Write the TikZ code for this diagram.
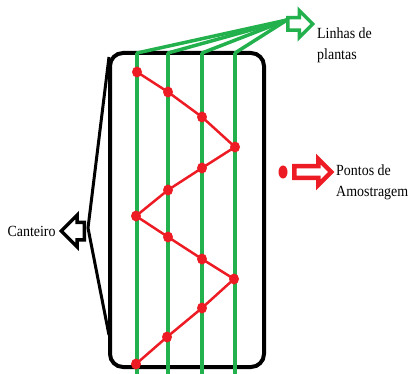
\documentclass[tikz,border=0pt]{standalone}
\usepackage{fontspec}
\setmainfont[FakeStretch=0.9]{Liberation Serif}
\usepackage{tikz}
\usetikzlibrary{shapes.arrows, shapes.geometric}

\definecolor{plantgreen}{HTML}{22B14C}
\definecolor{pointred}{HTML}{ED1C24}

\tikzset{
  hollowarrow/.style={single arrow, inner xsep=0pt, single arrow head indent=0pt},
  plantrow/.style={draw=plantgreen, line width=4pt},
  samplept/.style={fill=pointred, draw=none, ellipse, minimum width=10pt, minimum height=11pt, inner sep=0pt},
}

\begin{document}
\begin{tikzpicture}[x=1pt, y=-1pt, font=\fontsize{15.5}{21}\selectfont]
  \useasboundingbox (0,0) rectangle (409,374);
  % canteiro
  \draw[line width=4pt, rounded corners=13pt] (110,53) rectangle (264,367);
  \coordinate (ctop) at (109,57); \coordinate (cbot) at (109,335);
  \coordinate (cmid) at (88,228);
  \draw[line width=3pt] (ctop) -- (cmid) -- (cbot);
  \node[hollowarrow, draw=black, line width=3.5pt, shape border rotate=180, inner ysep=7pt,
        minimum height=23pt, minimum width=30pt, anchor=tail] (carrow) at (86,231) {};
  \node[anchor=east, inner sep=0pt] (canteiro) at (carrow.tip) [xshift=-3pt] {Canteiro};
  % linhas de plantas
  \coordinate (apex) at (287,20);
  \foreach \x [count=\i] in {137,168,202,235} {
    \coordinate (top\i) at (\x,53);
    \draw[plantrow] (top\i) -- (\x,374);
    \draw[plantgreen, line width=3.5pt, line cap=round] (top\i) -- (apex);
  }
  \node[hollowarrow, draw=plantgreen, line width=3.5pt, inner ysep=4.5pt, minimum height=25pt,
        minimum width=22pt, anchor=tail] (garrow) at (286,24) {};
  \node[anchor=west, align=left, inner sep=0pt] (linhas) at (317,45) {Linhas de\\plantas};
  % pontos de amostragem
  \foreach \x/\y [count=\i] in {137/72,168/92,202/117,235/147,202/168,168/190,136/216,
                                168/237,202/259,234/279,202/308,167/337,136/364}
    \coordinate (p\i) at (\x,\y);
  \draw[pointred, line width=2.5pt] (p1) \foreach \i in {2,...,13} { -- (p\i) };
  \foreach \i in {1,...,13}
    \node[samplept] at (p\i) {};
  \node[samplept, minimum width=9pt, minimum height=13pt] (legdot) at (283,172) {};
  \node[hollowarrow, draw=pointred, line width=4.5pt, inner ysep=3.5pt, minimum height=37pt,
        minimum width=21pt, anchor=tail] (rarrow) at (292,172) {};
  \node[anchor=west, align=left, inner sep=0pt] (pontos) at (336,182) {Pontos de\\Amostragem};
\end{tikzpicture}
\end{document}
